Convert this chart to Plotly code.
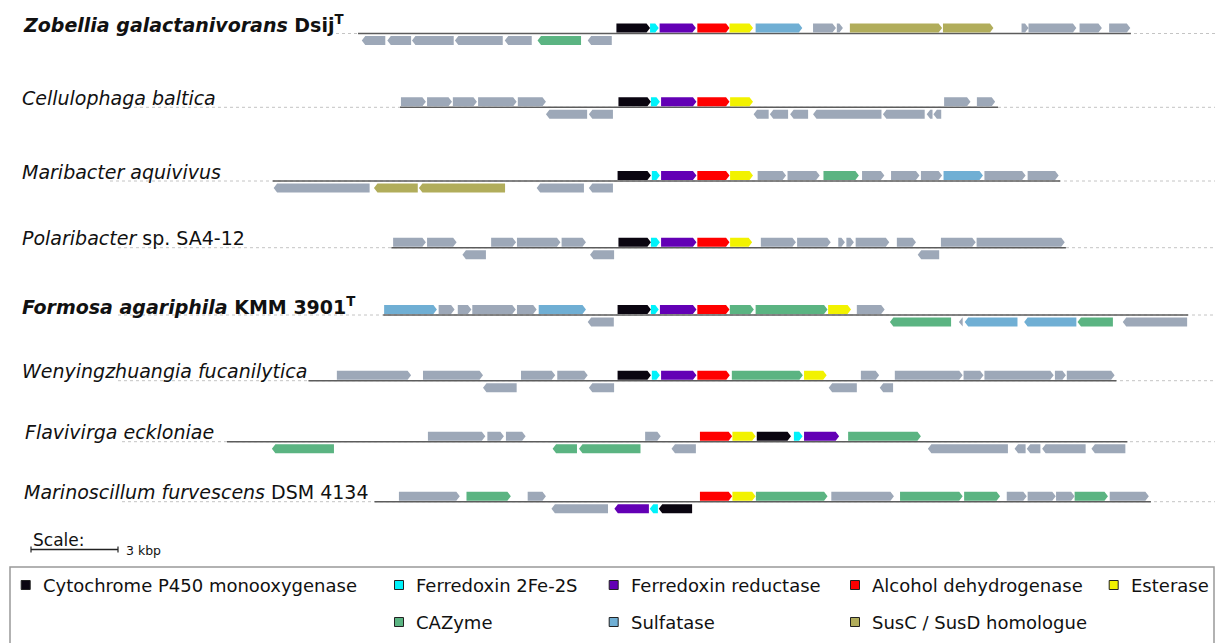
import plotly.graph_objects as go

# ---------------- data (gene coordinates in kbp, origin = start of the P450 gene) ----------------
organisms = [
    "<b><i>Zobellia galactanivorans</i> Dsij<sup>T</sup></b>",
    "<i>Cellulophaga baltica</i>",
    "<i>Maribacter aquivivus</i>",
    "<i>Polaribacter</i> sp. SA4-12",
    "<b><i>Formosa agariphila</i> KMM 3901<sup>T</sup></b>",
    "<i>Wenyingzhuangia fucanilytica</i>",
    "<i>Flavivirga eckloniae</i>",
    "<i>Marinoscillum furvescens</i> DSM 4134",
]

categories = ["P450", "Fdx", "FdR", "ADH", "Est", "CAZ", "Sulf", "Sus", "oth"]
category_names = ["Cytochrome P450 monooxygenase", "Ferredoxin 2Fe-2S", "Ferredoxin reductase",
                  "Alcohol dehydrogenase", "Esterase", "CAZyme", "Sulfatase", "SusC / SusD homologue", "Other"]
category_colors = ["#0a0510", "#00f2fa", "#6300b5", "#ff0000", "#f2f200",
                   "#5bb482", "#70afd4", "#b1ad5b", "#9da8b8"]

# locus extents (kbp)
locus_start = [-8.93, -7.48, -11.87, -7.78, -8.06, -10.64, -13.45, -8.36]
locus_end = [17.72, 13.14, 15.28, 15.48, 19.69, 17.22, 17.60, 18.41]

# genes: (start, end, strand, category)
genes_zobellia = [
    (-0.02, 1.14, 1, "P450"), (1.14, 1.44, 1, "Fdx"), (1.47, 2.72, 1, "FdR"), (2.77, 3.88, 1, "ADH"),
    (3.88, 4.69, 1, "Est"), (4.78, 6.39, 1, "Sulf"), (6.76, 7.55, 1, "oth"), (7.58, 7.79, 1, "oth"),
    (8.03, 11.21, 1, "Sus"), (11.24, 12.98, 1, "Sus"), (13.95, 14.19, 1, "oth"), (14.19, 15.84, 1, "oth"),
    (15.95, 16.72, 1, "oth"), (16.97, 17.70, 1, "oth"),
    (-8.80, -7.99, -1, "oth"), (-7.92, -7.10, -1, "oth"), (-7.07, -5.63, -1, "oth"), (-5.59, -3.94, -1, "oth"),
    (-3.87, -2.94, -1, "oth"), (-2.74, -1.24, -1, "CAZ"), (-1.01, -0.18, -1, "oth"),
]
genes_cellulophaga = [
    (-7.45, -6.59, 1, "oth"), (-6.55, -5.69, 1, "oth"), (-5.66, -4.83, 1, "oth"), (-4.79, -3.46, 1, "oth"),
    (-3.42, -2.45, 1, "oth"), (0.05, 1.17, 1, "P450"), (1.17, 1.48, 1, "Fdx"), (1.52, 2.74, 1, "FdR"),
    (2.77, 3.88, 1, "ADH"), (3.90, 4.69, 1, "Est"), (11.28, 12.19, 1, "oth"), (12.41, 13.04, 1, "oth"),
    (-2.45, -1.03, -1, "oth"), (-0.97, -0.14, -1, "oth"), (4.71, 5.23, -1, "oth"), (5.27, 5.90, -1, "oth"),
    (5.97, 6.59, -1, "oth"), (6.76, 9.12, -1, "oth"), (9.17, 10.61, -1, "oth"), (10.68, 10.88, -1, "oth"),
    (10.91, 11.18, -1, "oth"),
]
genes_maribacter = [
    (0.02, 1.17, 1, "P450"), (1.20, 1.48, 1, "Fdx"), (1.52, 2.74, 1, "FdR"), (2.77, 3.88, 1, "ADH"),
    (3.90, 4.69, 1, "Est"), (4.85, 5.83, 1, "oth"), (5.88, 6.99, 1, "oth"), (7.12, 8.34, 1, "CAZ"),
    (8.45, 9.22, 1, "oth"), (9.45, 10.43, 1, "oth"), (10.48, 11.21, 1, "oth"), (11.26, 12.62, 1, "Sulf"),
    (12.67, 14.09, 1, "oth"), (14.16, 15.23, 1, "oth"),
    (-11.84, -8.53, -1, "oth"), (-8.38, -6.87, -1, "Sus"), (-6.83, -3.86, -1, "Sus"),
    (-2.77, -1.14, -1, "oth"), (-0.97, -0.14, -1, "oth"),
]
genes_polaribacter = [
    (-7.72, -6.59, 1, "oth"), (-6.55, -5.53, 1, "oth"), (-4.34, -3.48, 1, "oth"), (-3.45, -1.95, 1, "oth"),
    (-1.91, -1.07, 1, "oth"), (0.05, 1.17, 1, "P450"), (1.17, 1.48, 1, "Fdx"), (1.52, 2.74, 1, "FdR"),
    (2.77, 3.88, 1, "ADH"), (3.90, 4.66, 1, "Est"), (4.96, 6.17, 1, "oth"), (6.21, 7.37, 1, "oth"),
    (7.63, 7.86, 1, "oth"), (7.91, 8.17, 1, "oth"), (8.23, 9.39, 1, "oth"), (9.65, 10.31, 1, "oth"),
    (11.17, 12.37, 1, "oth"), (12.40, 15.44, 1, "oth"),
    (-5.33, -4.52, -1, "oth"), (-0.93, -0.10, -1, "oth"), (10.37, 11.11, -1, "oth"),
]
genes_formosa = [
    (-8.03, -6.21, 1, "Sulf"), (-6.15, -5.60, 1, "oth"), (-5.49, -5.02, 1, "oth"), (-4.99, -3.49, 1, "oth"),
    (-3.45, -2.77, 1, "oth"), (-2.70, -1.07, 1, "Sulf"), (0.02, 1.17, 1, "P450"), (1.17, 1.44, 1, "Fdx"),
    (1.48, 2.74, 1, "FdR"), (2.77, 3.88, 1, "ADH"), (3.89, 4.72, 1, "CAZ"), (4.78, 7.26, 1, "CAZ"),
    (7.28, 8.07, 1, "Est"), (8.27, 9.23, 1, "oth"),
    (-1.01, -0.11, -1, "oth"), (9.41, 11.52, -1, "CAZ"), (11.79, 11.92, -1, "oth"), (11.99, 13.81, -1, "Sulf"),
    (14.04, 15.84, -1, "Sulf"), (15.88, 17.10, -1, "CAZ"), (17.44, 19.66, -1, "oth"),
]
genes_wenyingzhuangia = [
    (-9.66, -7.10, 1, "oth"), (-6.69, -4.62, 1, "oth"), (-3.31, -2.13, 1, "oth"), (-2.06, -1.01, 1, "oth"),
    (0.02, 1.17, 1, "P450"), (1.20, 1.48, 1, "Fdx"), (1.52, 2.74, 1, "FdR"), (2.77, 3.89, 1, "ADH"),
    (3.96, 6.41, 1, "CAZ"), (6.45, 7.23, 1, "Est"), (8.41, 9.04, 1, "oth"), (9.58, 11.92, 1, "oth"),
    (11.95, 12.64, 1, "oth"), (12.67, 15.06, 1, "oth"), (15.10, 15.48, 1, "oth"), (15.51, 17.16, 1, "oth"),
    (-4.62, -3.46, -1, "oth"), (-0.97, -0.10, -1, "oth"), (7.30, 8.27, -1, "oth"), (9.06, 9.52, -1, "oth"),
]
genes_flavivirga = [
    (-6.52, -4.54, 1, "oth"), (-4.47, -3.90, 1, "oth"), (-3.83, -3.15, 1, "oth"), (0.97, 1.51, 1, "oth"),
    (2.86, 3.97, 1, "ADH"), (3.98, 4.78, 1, "Est"), (4.82, 6.00, 1, "P450"), (6.10, 6.40, 1, "Fdx"),
    (6.45, 7.66, 1, "FdR"), (7.97, 10.48, 1, "CAZ"),
    (-11.90, -9.76, -1, "CAZ"), (-2.22, -1.38, -1, "CAZ"), (-1.31, 0.81, -1, "CAZ"), (1.88, 2.72, -1, "oth"),
    (10.72, 13.48, -1, "oth"), (13.71, 14.09, -1, "oth"), (14.13, 14.60, -1, "oth"), (14.66, 16.16, -1, "oth"),
    (16.36, 17.53, -1, "oth"),
]
genes_marinoscillum = [
    (-7.52, -5.42, 1, "oth"), (-5.19, -3.66, 1, "CAZ"), (-3.08, -2.45, 1, "oth"), (2.86, 3.97, 1, "ADH"),
    (3.98, 4.78, 1, "Est"), (4.79, 7.26, 1, "CAZ"), (7.39, 9.55, 1, "oth"), (9.76, 11.92, 1, "CAZ"),
    (11.97, 13.21, 1, "CAZ"), (13.44, 14.13, 1, "oth"), (14.16, 15.13, 1, "oth"), (15.14, 15.78, 1, "oth"),
    (15.78, 16.93, 1, "CAZ"), (16.99, 18.34, 1, "oth"),
    (-2.26, -0.31, -1, "oth"), (-0.09, 1.10, -1, "FdR"), (1.13, 1.41, -1, "Fdx"), (1.44, 2.59, -1, "P450"),
]
all_genes = [genes_zobellia, genes_cellulophaga, genes_maribacter, genes_polaribacter,
             genes_formosa, genes_wenyingzhuangia, genes_flavivirga, genes_marinoscillum]

scale_kbp = 3

# ---------------- layout (pixel geometry) ----------------
W, H = 1215, 643
PX_PER_KBP = 29.0
ORIGIN_PX = 617.0
X_MIN = (0 - ORIGIN_PX) / PX_PER_KBP
X_MAX = (W - ORIGIN_PX) / PX_PER_KBP
row_y = [33.5, 107.3, 181.0, 247.7, 315.0, 380.7, 441.7, 501.7]
dot_start_px = [336, 128, 110, 118, 118, 118, 122, 122]
label_x_px = [21, 20, 20, 20, 20, 20, 23, 22]
FONT = "DejaVu Sans"
HEAD = 0.12  # arrow head length in kbp


def px2kbp(px):
    return (px - ORIGIN_PX) / PX_PER_KBP


fig = go.Figure()

# baselines
shapes = []
for i in range(len(organisms)):
    y = row_y[i]
    shapes.append(dict(type="line", xref="x", yref="y", x0=px2kbp(dot_start_px[i]), x1=X_MAX, y0=y, y1=y,
                       line=dict(color="#c4c4c4", width=1, dash="dot"), layer="below"))
    shapes.append(dict(type="line", xref="x", yref="y", x0=locus_start[i], x1=locus_end[i], y0=y, y1=y,
                       line=dict(color="#5c5c5c", width=1.6), layer="below"))

# gene polygons, one trace per category
for ci, cat in enumerate(categories):
    xs, ys = [], []
    for ri, genes in enumerate(all_genes):
        L = row_y[ri]
        for (s, e, strand, c) in genes:
            if c != cat:
                continue
            h = min(HEAD, e - s)
            if strand > 0:
                top, bot = L - 10, L - 1
                mid = (top + bot) / 2
                xs += [s, e - h, e, e - h, s, s, None]
                ys += [top, top, mid, bot, bot, top, None]
            else:
                top, bot = L + 2.5, L + 11.5
                mid = (top + bot) / 2
                xs += [e, s + h, s, s + h, e, e, None]
                ys += [top, top, mid, bot, bot, top, None]
    fig.add_trace(go.Scatter(x=xs, y=ys, mode="lines", fill="toself", fillcolor=category_colors[ci],
                             line=dict(width=0, color=category_colors[ci]), hoverinfo="skip",
                             showlegend=False, name=category_names[ci]))

annotations = []
for i, name in enumerate(organisms):
    annotations.append(dict(text=name, xref="paper", yref="y", x=label_x_px[i] / W, y=row_y[i] - 9.5,
                            xanchor="left", yanchor="middle", showarrow=False,
                            font=dict(family=FONT, size=19, color="#111111")))

# scale bar
sb_x0 = px2kbp(31)
sb_y = 549.5
shapes.append(dict(type="line", xref="x", yref="y", x0=sb_x0, x1=sb_x0 + scale_kbp, y0=sb_y, y1=sb_y,
                   line=dict(color="#222222", width=1.5)))
for xx in (sb_x0, sb_x0 + scale_kbp):
    shapes.append(dict(type="line", xref="x", yref="y", x0=xx, x1=xx, y0=sb_y - 3, y1=sb_y + 3,
                       line=dict(color="#222222", width=1.2)))
annotations.append(dict(text="Scale:", xref="paper", yref="y", x=31 / W, y=540, xanchor="left",
                        yanchor="middle", showarrow=False, font=dict(family=FONT, size=17, color="#111111")))
annotations.append(dict(text=f"{scale_kbp} kbp", xref="x", yref="y", x=sb_x0 + scale_kbp + 0.2, y=550.5,
                        xanchor="left", yanchor="middle", showarrow=False,
                        font=dict(family=FONT, size=12.5, color="#111111")))

# legend box
shapes.append(dict(type="rect", xref="paper", yref="y", x0=10 / W, x1=1214 / W, y0=567, y1=660,
                   line=dict(color="#999999", width=1.5), fillcolor="rgba(0,0,0,0)"))
legend_pos = [(25.7, 585), (399, 585), (613.7, 585), (855, 585), (1113.7, 585),
              (399, 622), (613.7, 622), (855, 622)]
for ci in range(8):
    cx, cy = legend_pos[ci]
    shapes.append(dict(type="rect", xref="paper", yref="y", x0=(cx - 4.5) / W, x1=(cx + 4.5) / W,
                       y0=cy - 4.5, y1=cy + 4.5, fillcolor=category_colors[ci],
                       line=dict(color="#222222", width=1)))
    annotations.append(dict(text=category_names[ci], xref="paper", yref="y", x=(cx + 15) / W, y=cy,
                            xanchor="left", yanchor="middle", showarrow=False,
                            font=dict(family=FONT, size=18, color="#111111")))

fig.update_layout(
    width=W, height=H, margin=dict(l=0, r=0, t=0, b=0),
    paper_bgcolor="white", plot_bgcolor="white",
    xaxis=dict(range=[X_MIN, X_MAX], visible=False, fixedrange=True),
    yaxis=dict(range=[H, 0], visible=False, fixedrange=True),
    shapes=shapes, annotations=annotations, showlegend=False,
)

fig.write_html(
    "out.html",
    config={"displayModeBar": False},
    post_script="document.body.style.margin='0';document.body.style.overflow='hidden';",
)
